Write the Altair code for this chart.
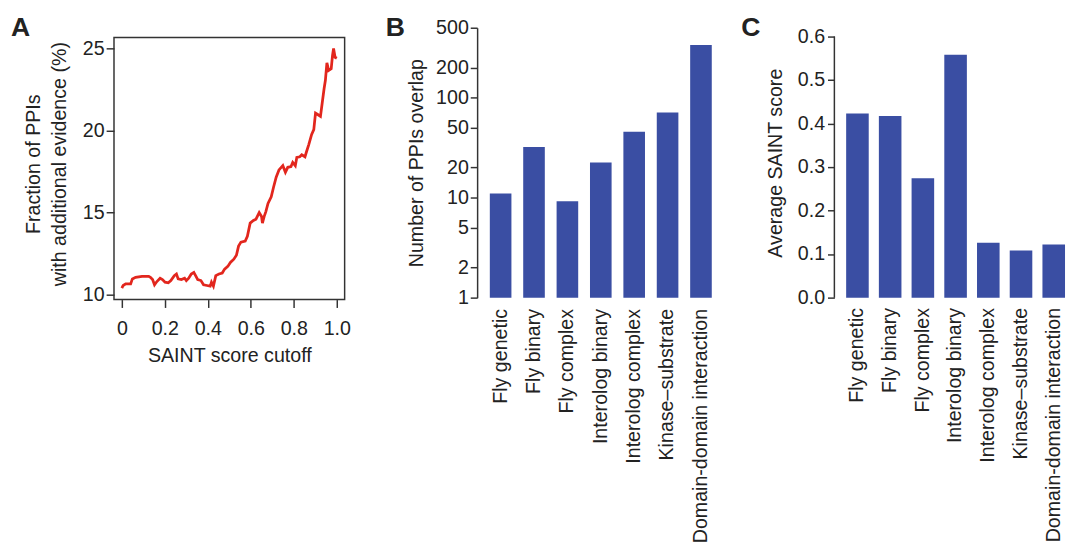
import altair as alt
import pandas as pd

# ---------------- data ----------------
cutoff = [0.000, 0.006, 0.018, 0.041, 0.049, 0.064, 0.094, 0.125, 0.133, 0.143, 0.152,
          0.163, 0.178, 0.189, 0.201, 0.216, 0.228, 0.244, 0.254, 0.262, 0.277, 0.292,
          0.300, 0.311, 0.323, 0.335, 0.345, 0.353, 0.368, 0.380, 0.396, 0.411, 0.417,
          0.426, 0.437, 0.452, 0.467, 0.478, 0.493, 0.505, 0.521, 0.533, 0.543, 0.554,
          0.574, 0.584, 0.597, 0.612, 0.624, 0.639, 0.650, 0.654, 0.662, 0.670, 0.680,
          0.695, 0.706, 0.718, 0.731, 0.749, 0.761, 0.772, 0.787, 0.795, 0.807, 0.814,
          0.828, 0.837, 0.852, 0.858, 0.870, 0.883, 0.893, 0.901, 0.913, 0.924, 0.932,
          0.941, 0.947, 0.954, 0.962, 0.974, 0.980, 0.985, 0.992, 1.000]
fraction = [10.40, 10.56, 10.66, 10.66, 10.96, 11.06, 11.12, 11.12, 11.06, 10.92, 10.60,
            10.80, 11.00, 10.92, 10.76, 10.72, 10.86, 11.16, 11.26, 10.96, 10.92, 11.00,
            10.86, 11.00, 11.26, 11.36, 11.12, 10.92, 10.86, 10.60, 10.56, 10.52, 10.76,
            10.52, 11.16, 11.26, 11.32, 11.56, 11.72, 11.96, 12.16, 12.40, 12.96, 13.20,
            13.26, 13.56, 14.36, 14.52, 14.60, 15.00, 14.76, 14.36, 14.76, 15.06, 15.56,
            15.96, 16.56, 17.16, 17.60, 17.86, 17.46, 17.76, 17.80, 18.06, 17.86, 18.36,
            18.40, 18.52, 18.40, 18.66, 19.16, 19.76, 20.06, 21.06, 20.96, 20.86, 21.66,
            22.56, 23.06, 24.12, 23.66, 23.76, 24.56, 25.00, 24.46, 24.40]

categories = ["Fly genetic", "Fly binary", "Fly complex", "Interolog binary",
              "Interolog complex", "Kinase\u2013substrate", "Domain-domain interaction"]
overlap = [11, 32, 9.2, 22.4, 45.7, 71, 336]
avg_saint = [0.423, 0.417, 0.274, 0.558, 0.126, 0.108, 0.122]

a_x_ticks = [0, 0.2, 0.4, 0.6, 0.8, 1.0]
a_y_ticks = [10, 15, 20, 25]
b_y_ticks = [1, 2, 5, 10, 20, 50, 100, 200, 500]
c_y_ticks = [0.0, 0.1, 0.2, 0.3, 0.4, 0.5, 0.6]

# frame extents of panel A (data units) and axis extent of panel C
a_box_x = [-0.0365, 1.0365]
a_box_y = [9.70, 25.66]
a_y_top = 26.26
b_y_domain = [1, 500]
c_axis_span = [0.0, 0.6]
c_y_top = 0.62

# ---------------- style ----------------
FONT = "Liberation Sans"
INK = "#222222"
FRAME = "#333333"
RED = "#e2261d"
BLUE = "#3a4ea3"
FS = 20


def letter(t, dx, dy):
    return alt.Chart(pd.DataFrame({"t": [t]})).mark_text(
        font=FONT, fontSize=27, fontWeight="bold", color=INK,
        align="left", baseline="alphabetic"
    ).encode(text="t:N", x=alt.value(dx), y=alt.value(dy))


# ---------------- panel A ----------------
dfA = pd.DataFrame({"cutoff": cutoff, "fraction": fraction})
xA = alt.X("cutoff:Q",
           scale=alt.Scale(domain=a_box_x, nice=False, zero=False),
           axis=alt.Axis(title="SAINT score cutoff", values=a_x_ticks, domain=False,
                         labelExpr="datum.value == 0 ? '0' : format(datum.value, '.1f')",
                         tickSize=8, labelPadding=12, titlePadding=7))
yA = alt.Y("fraction:Q",
           scale=alt.Scale(domain=[a_box_y[0], a_y_top], nice=False, zero=False),
           axis=alt.Axis(title=["Fraction of PPIs", "with additional evidence (%)"],
                         values=a_y_ticks, domain=False, tickSize=8, labelPadding=2,
                         titlePadding=13, titleLineHeight=27))
lineA = alt.Chart(dfA).mark_line(color=RED, strokeWidth=2.8, strokeJoin="miter").encode(
    x=xA, y=yA)
boxA = alt.Chart(pd.DataFrame({"b": [0]})).mark_rect(
    filled=False, stroke=FRAME, strokeWidth=1.5
).encode(x=alt.datum(a_box_x[0]), x2=alt.datum(a_box_x[1]),
         y=alt.datum(a_box_y[0]), y2=alt.datum(a_box_y[1]))
layerA = alt.layer(boxA, lineA, letter("A", -105, 8)).properties(width=235, height=277)

# ---------------- panel B ----------------
dfB = pd.DataFrame({"category": categories, "overlap": overlap})
barsB = alt.Chart(dfB).mark_bar(color=BLUE).encode(
    x=alt.X("category:N", sort=categories,
            scale=alt.Scale(paddingInner=0.353, paddingOuter=0.38),
            axis=alt.Axis(title=None, labelAngle=270, ticks=False, domain=False,
                          labelPadding=11, labelLimit=400)),
    y=alt.Y("overlap:Q",
            scale=alt.Scale(type="log", domain=b_y_domain, nice=False),
            axis=alt.Axis(title="Number of PPIs overlap", values=b_y_ticks, format="d",
                          tickSize=7, labelPadding=2, titlePadding=9)),
    y2=alt.datum(b_y_domain[0]),
)
layerB = alt.layer(barsB, letter("B", -93, 8)).properties(width=252, height=275)

# ---------------- panel C ----------------
dfC = pd.DataFrame({"category": categories, "avg": avg_saint})
barsC = alt.Chart(dfC).mark_bar(color=BLUE).encode(
    x=alt.X("category:N", sort=categories,
            scale=alt.Scale(paddingInner=0.31, paddingOuter=0.18, align=1),
            axis=alt.Axis(title=None, labelAngle=270, ticks=False, domain=False,
                          labelPadding=10, labelLimit=400)),
    y=alt.Y("avg:Q",
            scale=alt.Scale(domain=[0, c_y_top], nice=False),
            axis=alt.Axis(title="Average SAINT score", values=c_y_ticks, format=".1f",
                          domain=False, tickSize=7, labelPadding=3, titlePadding=12)),
)
axisLineC = alt.Chart(pd.DataFrame({"a": [0]})).mark_rule(
    color=FRAME, strokeWidth=1.5
).encode(x=alt.value(0), y=alt.datum(c_axis_span[0]), y2=alt.datum(c_axis_span[1]))
layerC = alt.layer(barsC, axisLineC, letter("C", -95, 8)).properties(width=235, height=275)

# ---------------- assemble ----------------
chart = alt.hconcat(
    layerA,
    alt.hconcat(layerB, layerC, spacing=15),
    spacing=34
).properties(padding={"left": 2, "top": 0, "right": 0, "bottom": 0}).configure_view(
    stroke="transparent"
).configure_axis(
    grid=False, labelFont=FONT, titleFont=FONT, labelFontSize=FS, titleFontSize=FS,
    titleFontWeight="normal", labelColor=INK, titleColor=INK,
    domainColor=FRAME, domainWidth=1.5, tickColor=FRAME, tickWidth=1.5,
)

chart.save("out.html", embed_options={"renderer": "svg", "actions": False})
